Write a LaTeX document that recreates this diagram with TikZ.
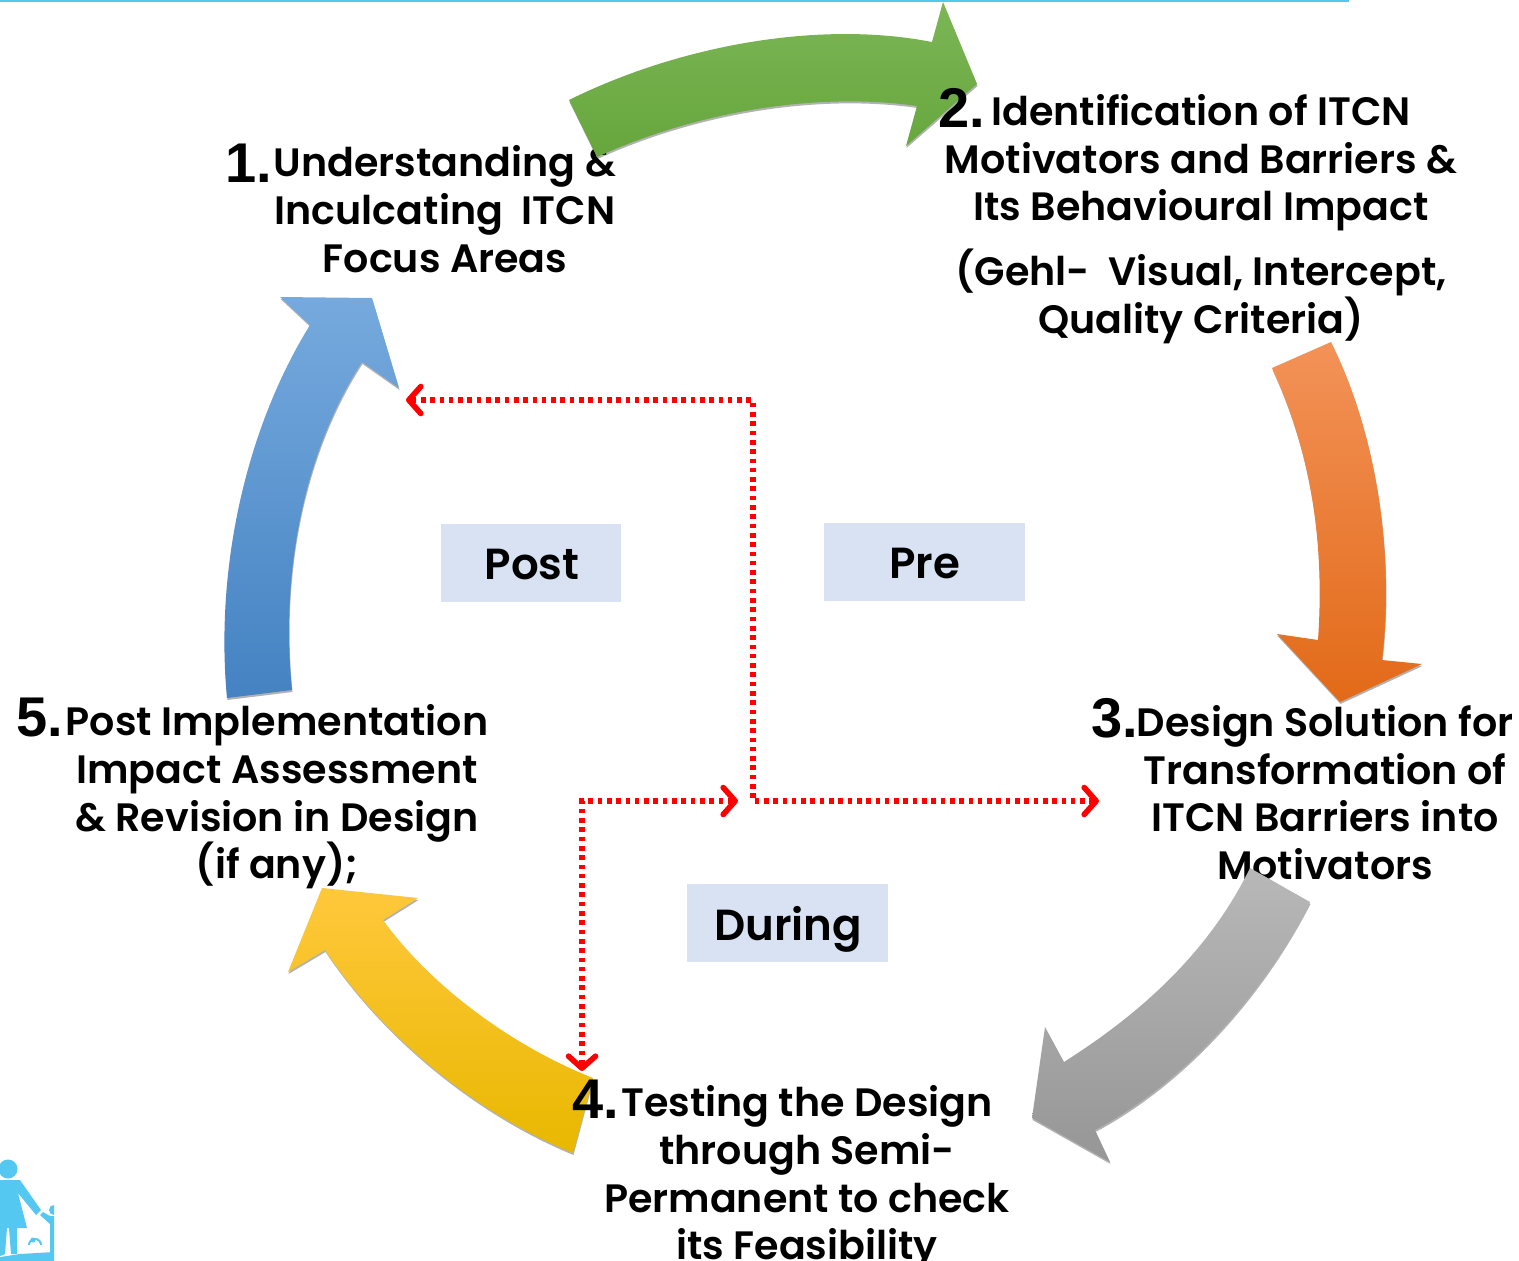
\documentclass[tikz,border=0pt]{standalone}
\usepackage{fontspec}
\usetikzlibrary{arrows.meta}
\setmainfont{Poppins SemiBold}
\newfontfamily\numfont{Liberation Sans Bold}
\definecolor{boxblue}{HTML}{D9E2F3}
\definecolor{iconblue}{HTML}{55C8F2}
\tikzset{
  x=1pt,y=-1pt,
  block/.style={align=center,inner sep=0pt,font=\fontsize{39.6}{47.7}\selectfont,text=black},
  num/.style={inner sep=0pt,font=\fontsize{56}{56}\numfont,text=black},
  tag/.style={fill=boxblue,inner sep=0pt,font=\fontsize{43.5}{48}\selectfont,text=black},
  redtip/.tip={Straight Barb[length=12pt,width=27pt,round]},
  reddot/.style={draw=red,line width=5.6pt,dash pattern=on 4.6pt off 4.7pt,redtip-redtip},
  shadowpart/.style={fill=black,opacity=.3},
}
\begin{document}
\begin{tikzpicture}
\useasboundingbox (0,0) rectangle (1519,1261);
\fill[iconblue] (0,0) rectangle (1349,1.5);
% text below arrows
\node[block] (t1) at (445,209) {Understanding \&\\Inculcating\ \ ITCN\\Focus Areas};
\node[block] (t3) at (1325,792.5) {Design Solution for\\Transformation of\\ITCN Barriers into\\Motivators};
% arrows
\def\greenp{(569,100) .. controls (680,45) and (820,20) .. (932,42) -- (943,2) -- (977,84) -- (906,146) -- (917,106) .. controls (820,92) and (700,110) .. (597,157) -- cycle}
\def\orangep{(1331,342) .. controls (1375,430) and (1395,550) .. (1382,660) -- (1422,664) -- (1340,702) -- (1277,634) -- (1318,640) .. controls (1325,540) and (1310,450) .. (1272,368) -- cycle}
\def\grayp{(1310,902) .. controls (1260,1000) and (1180,1085) .. (1095,1130) -- (1110,1162) -- (1032,1118) -- (1045,1027) -- (1064,1062) .. controls (1130,1020) and (1205,960) .. (1250,868) -- cycle}
\def\yellowp{(383,920) .. controls (430,985) and (510,1045) .. (593,1078) -- (573,1153) .. controls (480,1115) and (385,1040) .. (325,950) -- (288,972) -- (322,888) -- (418,898) -- cycle}
\def\bluep{(227,698) .. controls (215,570) and (245,430) .. (310,325) -- (280,297) -- (372,298) -- (399,388) -- (362,362) .. controls (305,450) and (280,570) .. (292,690) -- cycle}
\foreach \p in {\greenp,\orangep,\grayp,\yellowp,\bluep}{
  \begin{scope}[shift={(0.5,2)}] \expandafter\fill\expandafter[\expandafter s\expandafter h\expandafter a\expandafter d\expandafter o\expandafter w\expandafter p\expandafter a\expandafter r\expandafter t\expandafter]\p; \end{scope}
}
\shade[top color={rgb,255:red,124;green,182;blue,86},middle color={rgb,255:red,112;green,175;blue,71},bottom color={rgb,255:red,102;green,166;blue,60}] \greenp;
\shade[top color={rgb,255:red,243;green,146;blue,88},middle color={rgb,255:red,240;green,122;blue,36},bottom color={rgb,255:red,226;green,106;blue,24}] \orangep;
\shade[top color={rgb,255:red,184;green,184;blue,184},middle color={rgb,255:red,166;green,166;blue,166},bottom color={rgb,255:red,150;green,150;blue,150}] \grayp;
\shade[top color={rgb,255:red,255;green,200;blue,60},middle color={rgb,255:red,255;green,192;blue,0},bottom color={rgb,255:red,232;green,184;blue,0}] \yellowp;
\shade[top color={rgb,255:red,118;green,170;blue,222},middle color={rgb,255:red,91;green,155;blue,213},bottom color={rgb,255:red,68;green,130;blue,194}] \bluep;
% text above arrows
\node[block] (t2) at (1201,219) {Identification of ITCN\\Motivators and Barriers \&\\Its Behavioural Impact\\[17pt](Gehl-\ \ Visual, Intercept,\\Quality Criteria)};
\node[block] (t4) at (807,1178) {Testing the Design\\through Semi-\\Permanent to check\\its Feasibility};
\node[block] (t5) at (277,797) {Post Implementation\\Impact Assessment\\\& Revision in Design\\(if any);};
\node[num] (n1) at (249,163) {1.};
\node[num] (n2) at (962,108) {2.};
\node[num] (n3) at (1115,718) {3.};
\node[num] (n4) at (596,1099) {4.};
\node[num] (n5) at (40,718) {5.};
% tags
\node[tag,minimum width=180pt,minimum height=78pt] (post) at (531,563) {\raisebox{-16pt}[0pt][0pt]{\hspace{2pt}Post}};
\node[tag,minimum width=201pt,minimum height=78pt] (pre) at (924.5,562) {\raisebox{-16pt}[0pt][0pt]{Pre}};
\node[tag,minimum width=201pt,minimum height=78pt] (during) at (787.5,923) {\raisebox{-17pt}[0pt][0pt]{\hspace{1pt}During}};
% red dotted connectors
\coordinate (a1) at (406,400);
\coordinate (a2) at (753,400);
\coordinate (a3) at (753,801);
\coordinate (a4) at (1099,801);
\coordinate (b1) at (738,801);
\coordinate (b2) at (582,801);
\coordinate (b3) at (582,1071);
\draw[reddot] (a1) -- (a2) -- (a3) -- (a4);
\draw[reddot] (b1) -- (b2) -- (b3);
% icon
\begin{scope}
\clip (0,1130) rectangle (54,1261);
\fill[iconblue] (8,1169) circle (9.5);
\fill[iconblue] (0,1180) -- (20,1180) -- (41,1210) -- (36,1215) -- (18,1193) -- (27,1228) -- (17,1228) -- (17,1254) -- (11,1254) -- (9,1228) -- (7,1228) -- (5,1254) -- (0,1256) -- cycle;
\fill[iconblue] (54,1210) circle (5);
\fill[iconblue] (40,1215) -- (43,1212) -- (50,1216) -- (54,1216) -- (54,1252) -- (50,1252) -- (50,1224) -- cycle;
\fill[iconblue] (0,1257) -- (20,1254) -- (54,1252) -- (54,1261) -- (0,1261) -- cycle;
\draw[iconblue,line width=2pt] (29,1245) arc (180:360:6);
\fill[iconblue] (33,1240) circle (2.5);
\end{scope}
\end{tikzpicture}
\end{document}
